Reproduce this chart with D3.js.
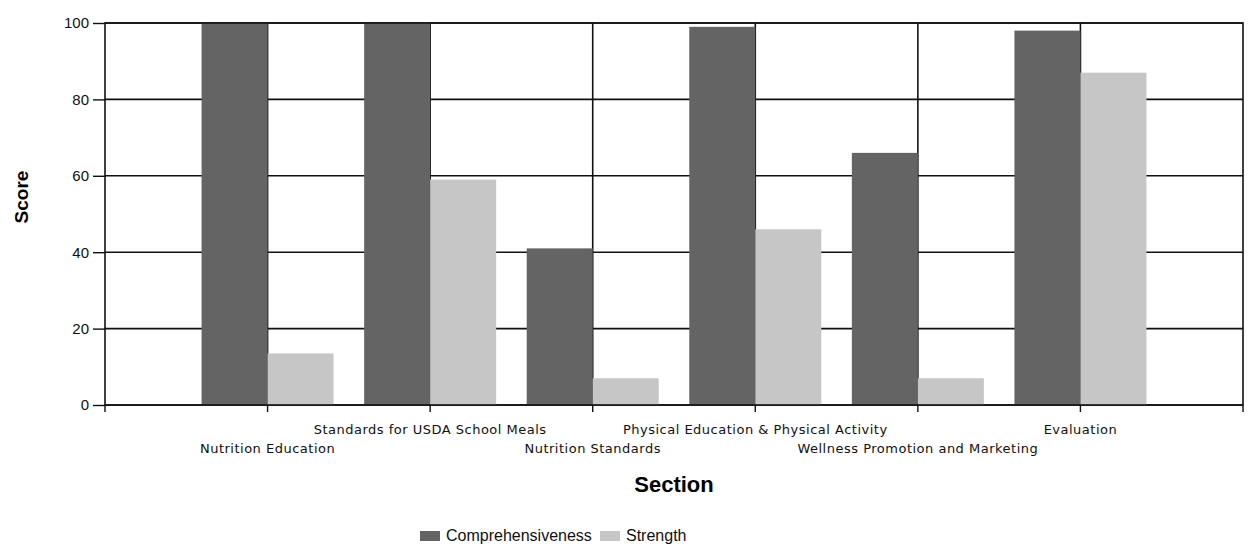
<!DOCTYPE html>
<html>
<head>
<meta charset="utf-8">
<script src="https://cdn.jsdelivr.net/npm/d3@7"></script>
<style>
    body { margin: 0; background: #fff; }
    svg { display: block; }
</style>
</head>
<body>
<div id="chart"></div>
<script>
// Chart data
var sections = ["Nutrition Education", "Standards for USDA School Meals", "Nutrition Standards",
                "Physical Education & Physical Activity", "Wellness Promotion and Marketing", "Evaluation"];
var seriesNames = ["Comprehensiveness", "Strength"];
var comprehensiveness = [100, 100, 41, 99, 66, 98];
var strength = [13.5, 59, 7, 46, 7, 87];
var yTicks = [0, 20, 40, 60, 80, 100];

var seriesValues = [comprehensiveness, strength];
var seriesColors = ["#646464", "#c6c6c6"];

var W = 1251, H = 548;
var plot = {left: 105, right: 1243, top: 23, bottom: 405};

var svg = d3.select("#chart")
            .append("svg")
                .attr("width", W)
                .attr("height", H)
                .style("font-family", "Liberation Sans, Arial, sans-serif");

// Scales: categories sit at 1..6 on a 0..7 axis
var x = d3.scaleLinear()
          .domain([0, sections.length + 1])
          .range([plot.left, plot.right]);

var inner = d3.scaleBand()
              .domain(seriesNames)
              .range([-66, 66]);

var y = d3.scaleLinear()
          .domain([0, 100])
          .range([plot.bottom, plot.top]);

// Horizontal gridlines
svg.append("g")
   .selectAll("line")
   .data(yTicks)
   .enter()
   .append("line")
        .attr("x1", plot.left)
        .attr("x2", plot.right)
        .attr("y1", function(v) { return y(v); })
        .attr("y2", function(v) { return y(v); })
        .attr("stroke", "#111")
        .attr("stroke-width", 1.6);

// Vertical gridlines at each section
svg.append("g")
   .selectAll("line")
   .data(sections)
   .enter()
   .append("line")
        .attr("x1", function(d, i) { return x(i + 1); })
        .attr("x2", function(d, i) { return x(i + 1); })
        .attr("y1", plot.top)
        .attr("y2", plot.bottom)
        .attr("stroke", "#111")
        .attr("stroke-width", 1.6);

// Bars
seriesNames.forEach(function(name, s) {
    svg.append("g")
       .selectAll("rect")
       .data(seriesValues[s])
       .enter()
       .append("rect")
            .attr("x", function(v, i) { return x(i + 1) + inner(name); })
            .attr("y", function(v) { return y(v); })
            .attr("width", inner.bandwidth())
            .attr("height", function(v) { return y(0) - y(v); })
            .attr("fill", seriesColors[s]);
});

// Frame
svg.append("rect")
   .attr("x", plot.left)
   .attr("y", plot.top)
   .attr("width", plot.right - plot.left)
   .attr("height", plot.bottom - plot.top)
   .attr("fill", "none")
   .attr("stroke", "#111")
   .attr("stroke-width", 1.6);

// Y axis
var yAxis = d3.axisLeft(y)
              .tickValues(yTicks)
              .tickSize(12)
              .tickPadding(4);

svg.append("g")
   .attr("transform", `translate(${plot.left}, 0)`)
   .style("font", "15px Liberation Sans, Arial, sans-serif")
   .call(yAxis)
   .call(function(g) { g.select(".domain").remove(); })
   .call(function(g) {
       g.selectAll("line").attr("stroke", "#111").attr("stroke-width", 1.4);
       g.selectAll("text").attr("fill", "#111");
   });

// X axis ticks
svg.append("g")
   .selectAll("line")
   .data(d3.range(sections.length + 2))
   .enter()
   .append("line")
        .attr("x1", function(v) { return x(v); })
        .attr("x2", function(v) { return x(v); })
        .attr("y1", plot.bottom)
        .attr("y2", plot.bottom + 7)
        .attr("stroke", "#111")
        .attr("stroke-width", 1.4);

// Staggered section labels
svg.append("g")
   .selectAll("text")
   .data(sections)
   .enter()
   .append("text")
        .attr("x", function(d, i) { return x(i + 1); })
        .attr("y", function(d, i) { return i % 2 === 1 ? 434 : 453; })
        .attr("text-anchor", "middle")
        .style("font-size", "13px")
        .style("letter-spacing", "0.5px")
        .style("font-family", "DejaVu Sans, Verdana, sans-serif")
        .attr("fill", "#111")
        .text(function(d) { return d; });

// Axis titles
svg.append("text")
   .attr("x", (plot.left + plot.right) / 2)
   .attr("y", 492)
   .attr("text-anchor", "middle")
   .style("font-size", "22px")
   .style("font-weight", "bold")
   .text("Section");

svg.append("text")
   .attr("transform", "translate(28, 197) rotate(-90)")
   .attr("text-anchor", "middle")
   .style("font-size", "19px")
   .style("font-weight", "bold")
   .text("Score");

// Legend
var legend = svg.append("g").attr("transform", "translate(420, 541)");
var legendX = [0, 180];
seriesNames.forEach(function(name, s) {
    var g = legend.append("g").attr("transform", `translate(${legendX[s]}, 0)`);
    g.append("rect")
     .attr("x", 0)
     .attr("y", -10)
     .attr("width", 20)
     .attr("height", 10)
     .attr("fill", seriesColors[s]);
    g.append("text")
     .attr("x", 26)
     .attr("y", 0)
     .style("font-size", "16px")
     .attr("fill", "#111")
     .text(name);
});
</script>
</body>
</html>
